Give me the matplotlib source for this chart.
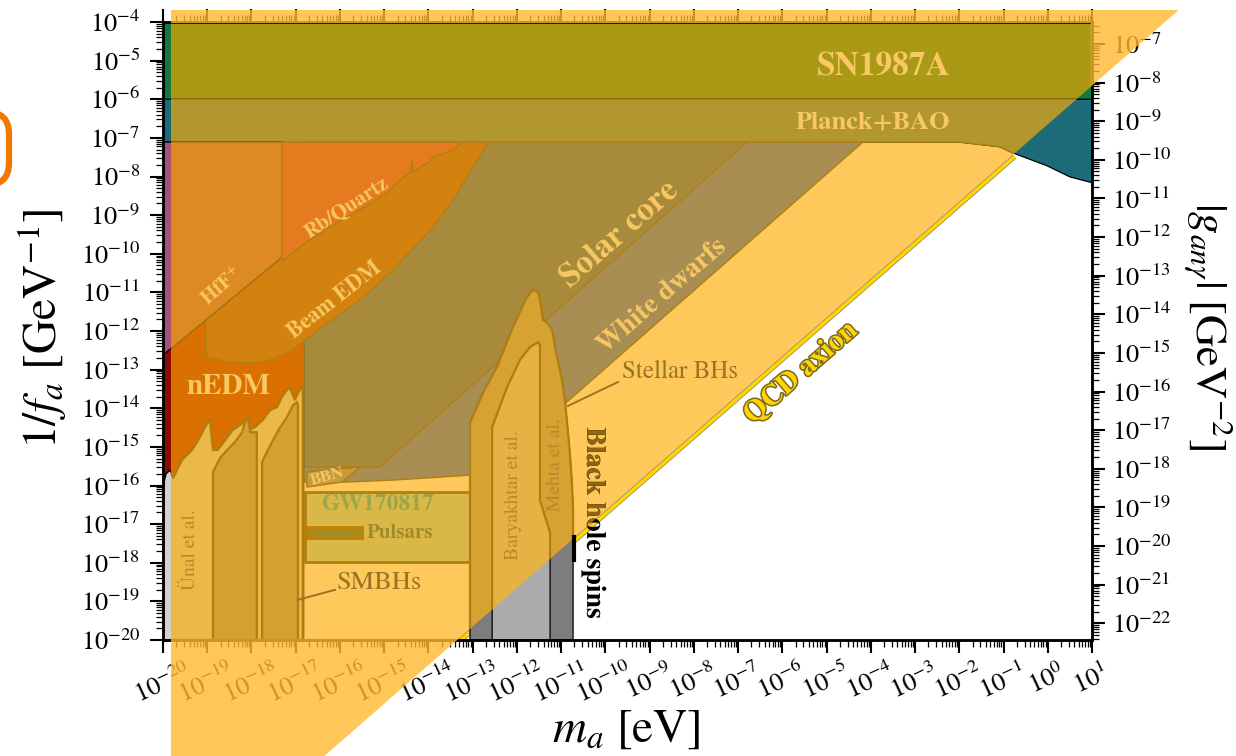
# ------------------------------------------------------ #
# Module & Libraries Import
# ------------------------------------------------------ #
import numpy as np
import matplotlib
matplotlib.use('Agg')
import matplotlib.pyplot as plt
import matplotlib.patheffects as pe
from matplotlib.patches import Polygon, FancyBboxPatch, PathPatch
from matplotlib.ticker import LogLocator, FuncFormatter, NullFormatter
from matplotlib.textpath import TextPath
from matplotlib.font_manager import FontProperties
from matplotlib.transforms import Affine2D

plt.rcParams['font.family'] = ['STIXGeneral', 'DejaVu Serif']
plt.rcParams['mathtext.fontset'] = 'stix'

# ------------------------------------------------------ #
# Data: log10(m_a / eV) and log10(1/f_a / GeV^-1)
# ------------------------------------------------------ #
qcd_offset = -6.65            # QCD axion: log(1/f_a) = log(m_a) + offset
g_factor = 3.7e-3             # |g_an gamma| = g_factor / f_a
tri_left, tri_top = -19.82, -3.69

sn_lo, sn_hi = -6.0, -4.0
planck_m = [-20.0, -1.99, -1.08, -0.79, -0.02, 0.50, 1.0]
planck_lo = [-7.11, -7.11, -7.23, -7.39, -7.72, -8.01, -8.16]

hff_m = [-20.0, -17.31, -17.31, -20.0]
hff_f = [-7.11, -7.11, -10.08, -12.62]

rbq_m = [-17.31, -13.24, -13.35, -13.58, -13.90, -13.97, -14.19, -14.35, -14.37,
         -14.42, -14.64, -14.94, -15.55, -16.16, -16.68, -17.06, -17.27, -17.31]
rbq_f = [-7.11, -7.11, -7.24, -7.37, -7.50, -7.63, -7.75, -7.91, -7.57,
         -7.91, -8.09, -8.43, -8.87, -9.26, -9.64, -9.96, -10.16, -10.11]

beam_m = [-19.03, -12.65, -12.90, -13.17, -13.45, -13.90, -14.80, -15.55, -16.29,
          -16.84, -17.13, -17.58, -18.03, -18.55, -19.01, -19.03]
beam_f = [-7.11, -7.11, -7.57, -8.09, -8.61, -9.31, -10.42, -11.20, -11.79,
          -12.29, -12.54, -12.75, -12.83, -12.80, -12.67, -11.97]

nedm_m = [-20.0, -16.84, -16.84, -20.0]
nedm_f = [-11.72, -11.72, -20.0, -20.0]

solar_m = [-16.84, -6.80, -15.10, -16.84]
solar_f = [-7.11, -7.11, -15.52, -15.52]

wd_m = [-16.84, -4.18, -12.72, -13.29, -14.80, -15.84, -16.84]
wd_f = [-7.11, -7.11, -15.70, -15.75, -15.86, -15.91, -15.91]

bbn_m = [-16.75, -15.55, -15.95, -16.75]
bbn_f = [-15.65, -15.52, -15.91, -16.04]

gw_m = [-16.79, -12.90, -12.90, -16.79]
gw_f = [-16.17, -16.17, -17.98, -17.98]

psr_m = [-16.75, -15.50, -15.50, -16.75]
psr_f = [-17.07, -17.07, -17.36, -17.36]

unal_m = [-20.0, -20.0, -19.93, -19.84, -19.77, -19.57, -19.34, -19.16, -19.05, -18.94,
          -18.87, -18.76, -18.42, -18.19, -18.08, -18.03, -17.92, -17.74, -17.58, -17.42,
          -17.31, -17.20, -17.13, -17.02, -16.95, -16.86, -16.84, -16.84]
unal_f = [-20.0, -16.04, -15.70, -15.60, -15.81, -15.34, -15.08, -14.74, -14.49, -14.30,
          -15.08, -15.08, -14.56, -14.38, -14.23, -14.56, -14.49, -14.30, -14.05, -13.97,
          -13.71, -13.53, -13.48, -13.79, -13.61, -13.45, -13.53, -20.0]

unal_a_m = [-18.87, -18.87, -18.71, -18.55, -18.37, -18.21, -18.15, -18.08, -18.03, -17.88, -17.88]
unal_a_f = [-20.0, -15.65, -15.29, -15.08, -14.87, -14.62, -14.36, -14.23, -14.62, -14.62, -20.0]

unal_b_m = [-17.76, -17.76, -17.65, -17.51, -17.36, -17.20, -17.06, -16.97, -16.95, -16.95]
unal_b_f = [-20.0, -15.39, -15.13, -14.82, -14.51, -14.23, -13.92, -13.84, -13.92, -20.0]

bary_m = [-13.06, -13.06, -12.77, -12.45, -12.09, -11.77, -11.64, -11.52, -11.46, -11.41,
          -11.32, -11.23, -11.18, -11.14, -11.07, -10.98, -10.91, -10.85, -10.80, -10.76,
          -10.73, -10.73]
bary_f = [-20.0, -14.38, -13.61, -12.93, -11.90, -11.12, -10.94, -10.99, -11.33, -11.72,
          -11.79, -11.92, -12.10, -12.44, -12.80, -13.27, -13.86, -14.56, -15.21, -15.86,
          -16.63, -20.0]

bary_in_m = [-12.56, -12.56, -12.22, -11.93, -11.70, -11.52, -11.48, -11.48, -11.25, -11.25]
bary_in_f = [-20.0, -14.49, -13.45, -12.75, -12.41, -12.29, -12.36, -16.38, -17.23, -20.0]

bhs_bar_m = -10.71
bhs_bar_f = [-17.33, -17.93]

# ------------------------------------------------------ #
# Figure & axes
# ------------------------------------------------------ #
fig = plt.figure(figsize=(12.36, 7.56), dpi=100)
ax = fig.add_axes([163 / 1236, 116 / 756, 929 / 1236, 618 / 756])
ax.set_xscale('log')
ax.set_yscale('log')
ax.set_xlim(1e-20, 1e1)
ax.set_ylim(1e-20, 1e-4)


def pts(lm, lf):
    return np.column_stack([10.0 ** np.asarray(lm, float), 10.0 ** np.asarray(lf, float)])


tri_xy = pts([tri_left, tri_top - qcd_offset, -24 - qcd_offset, tri_left],
             [tri_top, tri_top, -24, -24])
tri_clip = Polygon(tri_xy, closed=True, transform=ax.transData)
ax.add_patch(Polygon(tri_xy, closed=True, fc='#FFC85A', ec='none', zorder=0.5))


def region(lm, lf, tint, true=None, edge='#B07F12', lw=1.0):
    xy = pts(lm, lf)
    if true is not None:
        ax.add_patch(Polygon(xy, closed=True, fc=true, ec='k', lw=0.9, zorder=2))
    p = Polygon(xy, closed=True, fc=tint, ec=edge, lw=lw, zorder=2)
    ax.add_patch(p)
    p.set_clip_path(tri_clip)
    return p


# QCD axion line (under the bounds)
qm = np.array([-13.6, -0.75])
ax.plot(10 ** qm, 10 ** (qm + qcd_offset - 0.085), color='#FFD400', lw=2.6, zorder=1,
        solid_capstyle='butt',
        path_effects=[pe.Stroke(linewidth=3.6, foreground='#8A8060'), pe.Normal()])

region([-20, 1, 1, -20], [sn_lo, sn_lo, sn_hi, sn_hi], '#AA9914', true='#127A40')
region(planck_m + [1.0, -20.0], planck_lo + [sn_lo, sn_lo], '#B2962E', true='#1B6B78')
region(wd_m, wd_f, '#A88E52')
region(solar_m, solar_f, '#A88A3C')
region(nedm_m, nedm_f, '#DA7000', true='#8C0A00')
region(beam_m, beam_f, '#D4820F')
region(hff_m, hff_f, '#DE8A22', true='#A8507A')
region(rbq_m, rbq_f, '#E67A1E')
region(bbn_m, bbn_f, '#C89C3C')
region(gw_m, gw_f, '#D9B848', edge='#B07F12', lw=2.0)
region(psr_m, psr_f, '#A88C22', edge='#C08000', lw=2.0)
region(unal_m, unal_f, '#ECB848', true='#D2D2D2', lw=1.6)
region(unal_a_m, unal_a_f, '#D4A030', lw=1.6)
region(unal_b_m, unal_b_f, '#D4A030', lw=1.6)
region(bary_m, bary_f, '#D6A232', true='#7D7D7D', lw=1.6)
region(bary_in_m, bary_in_f, '#E6B244', true='#ABABAB', lw=1.6)
ax.plot([10 ** bhs_bar_m] * 2, 10 ** np.array(bhs_bar_f), color='k', lw=3, zorder=3)

# ------------------------------------------------------ #
# Labels inside the plot
# ------------------------------------------------------ #
gold = '#F8C862'


def label(lm, lf, s, size, color=gold, rot=0, weight='bold', ha='center', **kw):
    return ax.text(10 ** lm, 10 ** lf, s, fontsize=size, color=color, rotation=rot,
                   fontweight=weight, ha=ha, va='center', rotation_mode='anchor',
                   zorder=5, **kw)


label(-3.72, -5.17, 'SN1987A', 24)
label(-3.95, -6.59, 'Planck+BAO', 19)
label(-15.84, -8.82, 'Rb/Quartz', 15, rot=33)
label(-18.67, -10.86, r'HfF$^{+}$', 15, rot=41)
label(-16.11, -11.20, 'Beam EDM', 16, rot=38)
label(-18.53, -13.45, 'nEDM', 21)
label(-9.67, -9.52, 'Solar core', 24, rot=41)
label(-8.72, -11.09, 'White dwarfs', 20, rot=41)
label(-16.29, -15.78, 'BBN', 12, rot=15)
label(-15.14, -16.50, 'GW170817', 17, color='#9BA646')
label(-15.39, -17.23, 'Pulsars', 15, color='#A08A2A', ha='left')
label(-16.07, -18.52, 'SMBHs', 19, color='#9A7425', weight='normal', ha='left')
label(-9.63, -13.06, 'Stellar BHs', 18, color='#9A7425', weight='normal', ha='left')
label(-19.37, -17.67, 'Ünal et al.', 14, color='#B88A28', rot=90, weight='normal')
label(-12.07, -16.25, 'Baryakhtar et al.', 14, color='#B88A28', rot=90, weight='normal')
label(-11.12, -15.47, 'Mehta et al.', 14, color='#B88A28', rot=90, weight='normal')
label(-5.58, -13.09, 'QCD axion', 21, color='#FFD400', rot=41,
      path_effects=[pe.withStroke(linewidth=2.2, foreground='#7A6A20')])

# "Black hole spins": black below the QCD line, tinted above it
bhs_path = TextPath((0, 0), 'Black hole spins', size=20 * 100 / 72,
                    prop=FontProperties(family='STIXGeneral', weight='bold'))
bb = bhs_path.get_extents()
cx, cy = ax.transData.transform((10 ** -10.26, 10 ** -16.97))
bhs_tr = (Affine2D().translate(-(bb.x0 + bb.width / 2), -(bb.y0 + bb.height / 2))
          .rotate_deg(-90).translate(cx, cy))
ax.add_patch(PathPatch(bhs_path, transform=bhs_tr, fc='k', ec='none', zorder=5))
bhs_tint = PathPatch(bhs_path, transform=bhs_tr, fc='#8F6414', ec='none', zorder=5.1)
ax.add_patch(bhs_tint)
bhs_tint.set_clip_path(tri_clip)

ax.plot(10 ** np.array([-9.715, -10.845]), 10 ** np.array([-13.32, -13.94]),
        color='#9A7425', lw=1.4, zorder=4)
ax.plot(10 ** np.array([-16.11, -16.95]), 10 ** np.array([-18.70, -18.96]),
        color='#9A7425', lw=1.4, zorder=4)

# ------------------------------------------------------ #
# Axes, ticks, twin axis
# ------------------------------------------------------ #
fmt = FuncFormatter(lambda v, p: r'$10^{%d}$' % round(np.log10(v)))
for a in (ax.xaxis, ax.yaxis):
    a.set_major_locator(LogLocator(base=10, numticks=40))
    a.set_minor_locator(LogLocator(base=10, subs=np.arange(2, 10), numticks=40))
    a.set_major_formatter(fmt)
    a.set_minor_formatter(NullFormatter())
ax.tick_params(which='both', direction='out', top=True, right=False, labelsize=19)
ax.tick_params(which='major', length=9.5, width=1.5)
ax.tick_params(which='minor', length=5, width=0.9)
ax.tick_params(axis='x', which='major', labelrotation=25, pad=5)
ax.tick_params(axis='y', which='major', pad=7)
for s in ax.spines.values():
    s.set_linewidth(1.8)

ax2 = ax.twinx()
ax2.set_yscale('log')
ax2.set_ylim(1e-20 * g_factor, 1e-4 * g_factor)
ax2.yaxis.set_major_locator(LogLocator(base=10, numticks=40))
ax2.yaxis.set_minor_locator(LogLocator(base=10, subs=np.arange(2, 10), numticks=40))
ax2.yaxis.set_major_formatter(fmt)
ax2.yaxis.set_minor_formatter(NullFormatter())
ax2.tick_params(which='both', direction='out', labelsize=19)
ax2.tick_params(which='major', length=9.5, width=1.5, pad=5)
ax2.tick_params(which='minor', length=5, width=0.9)
for s in ax2.spines.values():
    s.set_linewidth(1.8)

fig.text(42 / 1236, 1 - 329 / 756, r'$1/f_a\ [\mathrm{GeV}^{-1}]$', fontsize=34,
         rotation=90, ha='center', va='center')
fig.text(626 / 1236, 1 - 730 / 756, r'$m_a\ [\mathrm{eV}]$', fontsize=34,
         ha='center', va='center')
fig.text(1208 / 1236, 1 - 326 / 756, r'$|g_{an\gamma}|\ [\mathrm{GeV}^{-2}]$',
         fontsize=32, rotation=-90, ha='center', va='center')

# ------------------------------------------------------ #
# Orange overlay spilling outside the axes
# ------------------------------------------------------ #
over_top = pts([tri_left, tri_left, tri_top - qcd_offset, 0.97, 0.97],
               [-4.03, tri_top, tri_top, 0.97 + qcd_offset, -4.03])
over_bot = pts([tri_left, -19.97 - qcd_offset, -24 - qcd_offset, tri_left],
               [-19.97, -19.97, -24, -24])
for xy in (over_top, over_bot):
    fig.add_artist(Polygon(xy, closed=True, transform=ax.transData, fc='#FFBA31',
                           ec='none', alpha=0.8, zorder=10, clip_on=False))

fig.add_artist(FancyBboxPatch((-80, 571), 89, 73, boxstyle='round,pad=0,rounding_size=22',
                              fc='none', ec='#F07800', lw=4.5, transform=None, zorder=10))

fig.savefig('out.png', dpi=100)
